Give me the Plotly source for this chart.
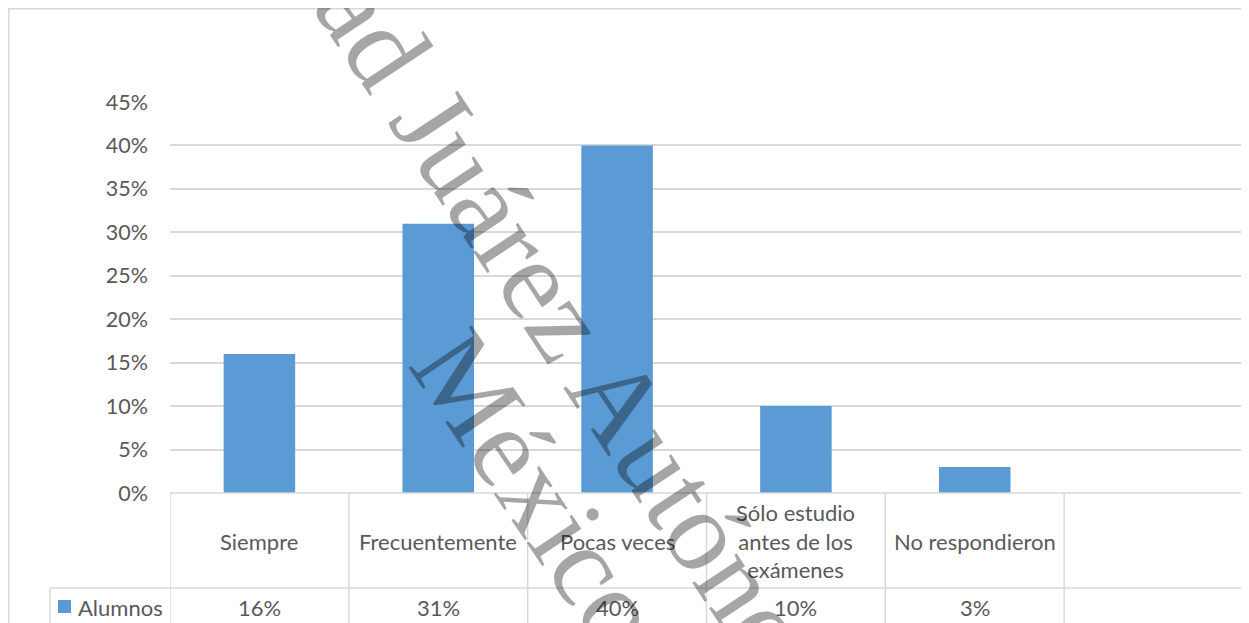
import plotly.graph_objects as go

categories = ["Siempre", "Frecuentemente", "Pocas veces",
              "Sólo estudio<br>antes de los<br>exámenes", "No respondieron"]
values = [0.16, 0.31, 0.40, 0.10, 0.03]
value_labels = ["16%", "31%", "40%", "10%", "3%"]
series_name = "Alumnos"
y_ticks = [0, 0.05, 0.10, 0.15, 0.20, 0.25, 0.30, 0.35, 0.40, 0.45]
watermark_line1 = "Universidad Juárez Autónoma de Tabasco"
watermark_line2 = "México"

# page body has an 8px margin; work in reference-pixel coordinates
O = 8
W, H = 1249 - O, 623 - O
PLOT_L, PLOT_R, PLOT_T, PLOT_B = 170, 1243, 102, 493
L, T = PLOT_L - O, PLOT_T - O
R, B = W - (PLOT_R - O), H - (PLOT_B - O)
PW, PH = W - L - R, H - T - B

def px(x):
    return (x - PLOT_L) / PW

def py(y):
    return (PLOT_B - y) / PH

FONT = "Lato"
TXT = "#595959"
GRID = "#d9d9d9"
BAR = "#5b9bd5"
FS = 22
n_cols = len(categories) + 1

fig = go.Figure()
fig.add_trace(go.Bar(x=list(range(len(categories))), y=values, name=series_name,
                     marker=dict(color=BAR, line=dict(width=0)), width=0.4,
                     showlegend=False))

shapes = []
shapes.append(dict(type="rect", xref="paper", yref="paper",
                   x0=px(8.8), x1=px(1265), y0=py(8.8), y1=py(650),
                   line=dict(color=GRID, width=1.5), layer="below"))
shapes.append(dict(type="line", xref="paper", yref="paper", x0=0, x1=1,
                   y0=0, y1=0, line=dict(color=GRID, width=1.5)))
shapes.append(dict(type="line", xref="paper", yref="paper", x0=px(50), x1=1,
                   y0=py(588), y1=py(588), line=dict(color=GRID, width=1.5)))
for i in range(n_cols + 1):
    shapes.append(dict(type="line", xref="x", yref="paper", x0=i - 0.5, x1=i - 0.5,
                       y0=0, y1=py(640), line=dict(color=GRID, width=1.5)))
shapes.append(dict(type="line", xref="paper", yref="paper", x0=px(50), x1=px(50),
                   y0=py(588), y1=py(640), line=dict(color=GRID, width=1.5)))
shapes.append(dict(type="rect", xref="paper", yref="paper",
                   x0=px(58), x1=px(71), y0=py(613), y1=py(600),
                   fillcolor=BAR, line=dict(width=0)))

annotations = []
for i, (c, v) in enumerate(zip(categories, value_labels)):
    annotations.append(dict(x=i, y=py(541), xref="x", yref="paper", text=c,
                            showarrow=False, xanchor="center", yanchor="middle",
                            font=dict(family=FONT, size=FS, color=TXT)))
    annotations.append(dict(x=i, y=py(607), xref="x", yref="paper", text=v,
                            showarrow=False, xanchor="center", yanchor="middle",
                            font=dict(family=FONT, size=FS, color=TXT)))
annotations.append(dict(x=px(76), y=py(607), xref="paper", yref="paper", text=series_name,
                        showarrow=False, xanchor="left", yanchor="middle",
                        font=dict(family=FONT, size=FS, color=TXT)))
annotations.append(dict(x=px(628), y=py(415), xref="paper", yref="paper",
                        text=watermark_line1, showarrow=False, textangle=56.5,
                        xanchor="center", yanchor="middle",
                        font=dict(family="Liberation Serif", size=116, color="rgba(0,0,0,0.35)")))
annotations.append(dict(x=px(538), y=py(490), xref="paper", yref="paper",
                        text=watermark_line2, showarrow=False, textangle=56,
                        xanchor="center", yanchor="middle",
                        font=dict(family="Liberation Serif", size=116, color="rgba(0,0,0,0.35)")))

fig.update_layout(
    width=W, height=H,
    margin=dict(l=L, r=R, t=T, b=B),
    paper_bgcolor="white", plot_bgcolor="white",
    shapes=shapes, annotations=annotations,
    xaxis=dict(range=[-0.5, n_cols - 0.5], showticklabels=False, showgrid=False,
               zeroline=False, showline=False, ticks=""),
    yaxis=dict(range=[0, 0.45], tickvals=y_ticks, tickformat=".0%",
               showgrid=True, gridcolor=GRID, gridwidth=1.5, zeroline=False,
               showline=False, ticks="", ticklabelstandoff=21,
               tickfont=dict(family=FONT, size=21.5, color=TXT)),
    bargap=0.6,
)

fig.write_html("out.html")
